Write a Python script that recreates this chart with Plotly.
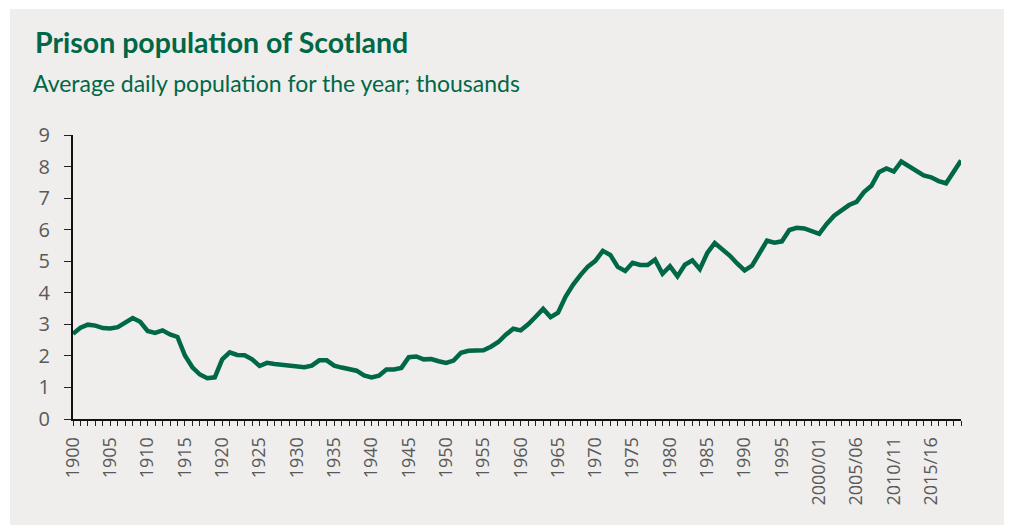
import plotly.graph_objects as go

years = [str(y) for y in range(1900, 2000)] + [f"{y}/{str(y + 1)[-2:]}" for y in range(2000, 2020)]

population = [
    2.70, 2.89, 2.99, 2.96, 2.88, 2.87, 2.91, 3.04, 3.20, 3.08,
    2.79, 2.73, 2.81, 2.68, 2.60, 2.01, 1.64, 1.41, 1.29, 1.32,
    1.89, 2.11, 2.03, 2.02, 1.89, 1.68, 1.78, 1.74, 1.72, 1.67,
    1.66, 1.64, 1.69, 1.86, 1.86, 1.69, 1.63, 1.58, 1.53, 1.38,
    1.32, 1.37, 1.57, 1.57, 1.62, 1.96, 1.98, 1.89, 1.90, 1.83,
    1.78, 1.85, 2.10, 2.16, 2.18, 2.18, 2.29, 2.44, 2.67, 2.86,
    2.81, 3.00, 3.24, 3.49, 3.23, 3.37, 3.87, 4.25, 4.56, 4.83,
    5.01, 5.33, 5.20, 4.82, 4.69, 4.95, 4.88, 4.88, 5.05, 4.60,
    4.84, 4.52, 4.89, 5.03, 4.75, 5.26, 5.58, 5.39, 5.18, 4.93,
    4.71, 4.86, 5.26, 5.65, 5.59, 5.63, 5.99, 6.06, 6.04, 5.97,
    5.87, 6.18, 6.44, 6.61, 6.78, 6.88, 7.19, 7.39, 7.82, 7.94,
    7.84, 8.16, 8.02, 7.85, 7.72, 7.66, 7.54, 7.47, 7.84, 8.19,
]

tick_labels = [y if i % 5 == 0 else "" for i, y in enumerate(years)]

title = "Prison population of Scotland"
subtitle = "Average daily population for the year; thousands"

GREEN = "#006747"
GREY_TEXT = "#595959"
BG = "#efeeec"

# page shows the figure offset by the 8px body margin
OFF = 8
W, H = 1012 - OFF, 525 - OFF
L, R, T, B = 73 - OFF, 1012 - 961, 135 - OFF, 525 - 419
pw, ph = W - L - R, H - T - B


def px(x):
    return (x - OFF - L) / pw


def py(y):
    return (H - B - (y - OFF)) / ph


fig = go.Figure()
fig.add_trace(go.Scatter(
    x=years, y=population, mode="lines",
    line=dict(color=GREEN, width=4.5), hoverinfo="skip", showlegend=False,
))

fig.add_shape(type="rect", xref="paper", yref="paper",
              x0=px(10), x1=px(1010), y0=py(530), y1=py(9),
              fillcolor=BG, line=dict(width=0), layer="below")

fig.add_annotation(text=f"<b>{title}</b>", xref="paper", yref="paper",
                   x=px(33), y=py(42), xanchor="left", yanchor="middle",
                   showarrow=False, font=dict(family="Lato", size=28.5, color=GREEN))
fig.add_annotation(text=subtitle, xref="paper", yref="paper",
                   x=px(31), y=py(83), xanchor="left", yanchor="middle",
                   showarrow=False, font=dict(family="Lato", size=23, color=GREEN))

fig.update_layout(
    width=W, height=H,
    margin=dict(l=L, r=R, t=T, b=B),
    paper_bgcolor="white", plot_bgcolor="rgba(0,0,0,0)",
    xaxis=dict(
        type="category", range=[0, len(years) - 1],
        tickmode="array", tickvals=years, ticktext=tick_labels,
        tickangle=-90, ticks="outside", ticklen=5, tickwidth=1, tickcolor="#222",
        showline=True, linecolor="#111", linewidth=2,
        showgrid=False, zeroline=False,
        tickfont=dict(family="Open Sans", size=18, color=GREY_TEXT),
        ticklabelstandoff=4,
    ),
    yaxis=dict(
        range=[0, 9], dtick=1, tick0=0,
        ticks="outside", ticklen=7, tickwidth=1, tickcolor="#222",
        showline=True, linecolor="#111", linewidth=2,
        showgrid=False, zeroline=False,
        tickfont=dict(family="Open Sans", size=20, color=GREY_TEXT),
        ticklabelstandoff=10,
    ),
)

fig.write_html("out.html")
